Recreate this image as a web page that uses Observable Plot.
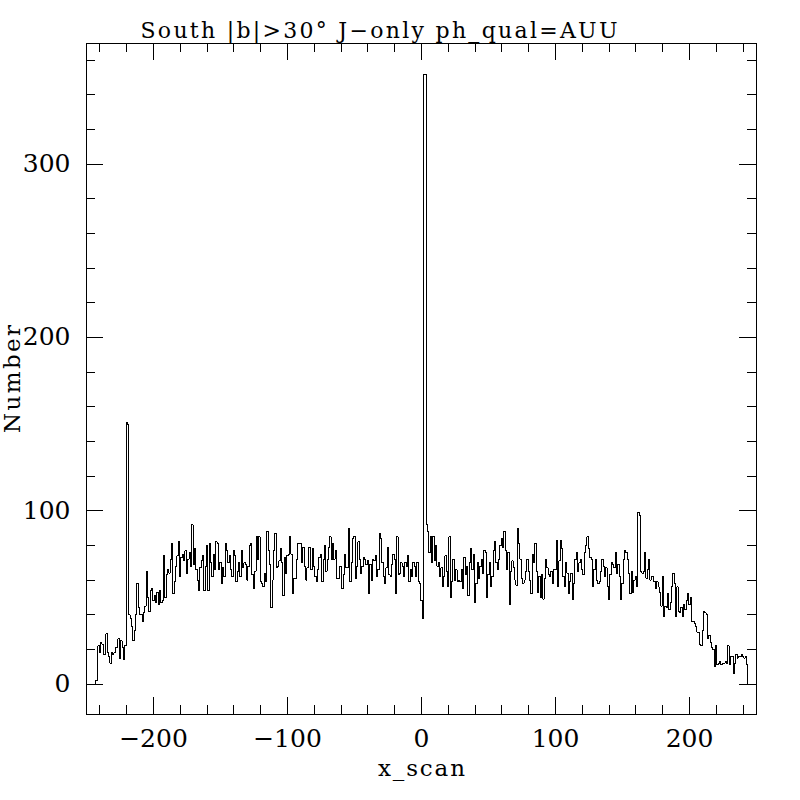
<!DOCTYPE html>
<html>
<head>
<meta charset="utf-8">
<script src="https://cdn.jsdelivr.net/npm/d3@7"></script>
<script src="https://cdn.jsdelivr.net/npm/@observablehq/plot@0.6"></script>
<style>
  html, body { margin: 0; padding: 0; background: white; }
  #chart svg path, #chart svg line { shape-rendering: crispEdges; }
</style>
</head>
<body>
<div id="chart"></div>
<script>
// Histogram of x_scan: bin counts, 1-unit bins starting at -243.5
const binStart = -243.5;
const binWidth = 1;
const counts = [
  // -243.5 .. -220.5
  2, 2,
  22, 18, 24, 23, 17, 17, 29, 18, 16, 12, 18, 17, 18, 21, 21, 26, 15, 25, 21, 14, 22,
  // spike near -220
  151, 150,
  // -218.5 .. -152.5
  40, 38, 33, 25, 31, 40, 58, 44, 40, 40,
  36, 41, 45, 65, 50, 42, 54, 55, 48, 51,
  47, 53, 46, 54, 47, 48, 74, 50, 63, 66,
  64, 72, 81, 52, 59, 68, 74, 82, 62, 73,
  75, 71, 77, 64, 72, 76, 68, 92, 69, 78,
  66, 60, 54, 67, 71, 74, 54, 68, 80, 54,
  81, 70, 62, 75, 66, 82,
  // -152.5 .. -60.5
  81, 66, 70, 58, 67, 62, 81, 77, 70, 74,
  66, 62, 77, 74, 59, 65, 70, 62, 77, 67,
  70, 69, 60, 68, 80, 81, 63, 55, 65, 85,
  72, 85, 59, 58, 56, 64, 59, 88, 77, 69,
  44, 60, 77, 87, 67, 68, 71, 78, 70, 51,
  73, 64, 74, 75, 85, 75, 52, 61, 61, 72,
  81, 81, 81, 70, 79, 68, 60, 67, 79, 79,
  66, 78, 68, 62, 59, 66, 73, 75, 59, 72,
  80, 65, 72, 79, 85, 72, 81, 72, 77, 61,
  61, 68,
  // -60.5 .. 1.5
  68, 55, 63, 75, 67, 67, 90, 59, 70, 84,
  85, 61, 68, 82, 72, 64, 68, 73, 72, 69,
  71, 52, 69, 60, 72, 71, 74, 62, 66, 87,
  84, 70, 62, 58, 67, 79, 63, 62, 69, 75,
  72, 52, 85, 63, 64, 70, 68, 62, 70, 68,
  74, 59, 66, 62, 70, 68, 62, 70, 59, 58,
  48, 38,
  // spike near 0
  352, 352,
  // 3.5 .. 28.5
  92, 88, 76, 85, 70, 85, 71, 80, 68, 70,
  62, 67, 56, 62, 74, 65, 56, 85, 50, 59,
  72, 60, 66, 59, 60,
  // 28.5 .. 121.5
  59, 66, 55, 73, 63, 68, 51, 70, 78, 66,
  75, 47, 58, 70, 61, 68, 72, 64, 77, 76,
  50, 63, 70, 56, 62, 77, 82, 70, 66, 72,
  80, 84, 79, 88, 77, 66, 76, 46, 65, 71,
  67, 60, 57, 90, 81, 72, 61, 58, 60, 65,
  72, 65, 60, 52, 75, 70, 81, 65, 53, 62,
  50, 63, 49, 61, 72, 67, 63, 62, 65, 58,
  66, 66, 83, 56, 71, 83, 78, 62, 56, 70,
  64, 52, 59, 64, 49, 58, 72, 76, 65, 70,
  72, 66, 63,
  // 121.5 .. 177.5
  76, 80, 85, 78, 73, 72, 56, 66, 72, 60,
  58, 59, 65, 72, 68, 62, 67, 56, 49, 63,
  70, 69, 67, 76, 64, 69, 62, 49, 58, 72,
  77, 76, 72, 64, 52, 65, 53, 60, 62, 56,
  99, 97,
  65, 64, 65, 76, 61, 66, 72, 60, 62, 62, 59, 55, 59, 56,
  // 177.5 .. 243.5
  53, 45, 62, 39, 45, 44, 52, 43, 47, 56,
  64, 58, 39, 56, 42, 41, 44, 39, 46, 43,
  48, 52, 46, 50, 36, 36, 35, 33, 30, 30,
  23, 22, 31, 42, 41, 40, 26, 28, 24, 21,
  20, 10, 22, 11, 12, 13, 11, 12, 12, 13,
  12, 22, 11, 16, 16, 6, 12, 17, 15, 16,
  16, 17, 16, 15, 16, 11
];

const xMajorTicks = [-200, -100, 0, 100, 200];
const xMinorTicks = [-240, -220, -180, -160, -140, -120, -80, -60, -40, -20,
                     20, 40, 60, 80, 120, 140, 160, 180, 220, 240];
const yMajorTicks = [0, 100, 200, 300];
const yMinorTicks = [20, 40, 60, 80, 120, 140, 160, 180, 220, 240, 260, 280, 320, 340, 360];

const titleText = "South |b|>30° J\u2212only ph_qual=AUU";
const xLabel = "x_scan";
const yLabel = "Number";

// Step outline of the histogram, from the bin counts
const pts = [{x: binStart, y: 0}];
counts.forEach((v, i) => pts.push({x: binStart + i * binWidth, y: v}));
pts.push({x: binStart + counts.length * binWidth, y: 0});

const W = 800, H = 800;
const mL = 86, mR = 44, mT = 43, mB = 86;
const fw = W - mL - mR, fh = H - mT - mB;
const major = 17, minor = 9;
const font = "DejaVu Serif";

const chart = Plot.plot({
  width: W,
  height: H,
  marginLeft: mL, marginRight: mR, marginTop: mT, marginBottom: mB,
  x: {domain: [-250, 250]},
  y: {domain: [-17.6, 369.6]},
  style: {fontFamily: font, background: "white", color: "black"},
  marks: [
    Plot.frame({stroke: "black", strokeWidth: 1}),
    // inward ticks on all four sides
    Plot.tickX(xMajorTicks, {x: d => d, insetTop: fh - major, stroke: "black"}),
    Plot.tickX(xMajorTicks, {x: d => d, insetBottom: fh - major, stroke: "black"}),
    Plot.tickX(xMinorTicks, {x: d => d, insetTop: fh - minor, stroke: "black"}),
    Plot.tickX(xMinorTicks, {x: d => d, insetBottom: fh - minor, stroke: "black"}),
    Plot.tickY(yMajorTicks, {y: d => d, insetRight: fw - major, stroke: "black"}),
    Plot.tickY(yMajorTicks, {y: d => d, insetLeft: fw - major, stroke: "black"}),
    Plot.tickY(yMinorTicks, {y: d => d, insetRight: fw - minor, stroke: "black"}),
    Plot.tickY(yMinorTicks, {y: d => d, insetLeft: fw - minor, stroke: "black"}),
    Plot.axisX(xMajorTicks, {tickSize: 0, tickPadding: 15, fontSize: 25, label: null, fill: "black"}),
    Plot.axisY(yMajorTicks, {tickSize: 0, tickPadding: 16, fontSize: 25, label: null, fill: "black"}),
    Plot.line(pts, {x: "x", y: "y", curve: "step-after", stroke: "black", strokeWidth: 1}),
    Plot.text([titleText], {frameAnchor: "top-left", textAnchor: "start", lineAnchor: "top",
      dx: 54, dy: -21, fontSize: 22, fill: "black", className: "ttl"}),
    Plot.text([xLabel], {frameAnchor: "bottom", lineAnchor: "middle", dy: 54, fontSize: 23,
      fill: "black", className: "xlab"}),
    Plot.text([yLabel], {frameAnchor: "left", textAnchor: "middle", lineAnchor: "middle",
      dx: -74, rotate: -90, fontSize: 23, fill: "black", className: "ylab"})
  ]
});

// widen the labels like the stroked plotting font of the original
const stretch = (cls, len) => {
  chart.querySelectorAll("." + cls + " text").forEach(t => {
    t.setAttribute("textLength", len);
    t.setAttribute("lengthAdjust", "spacing");
  });
};
stretch("ttl", 477);
stretch("xlab", 87);
stretch("ylab", 108);

document.getElementById("chart").appendChild(chart);
</script>
</body>
</html>
